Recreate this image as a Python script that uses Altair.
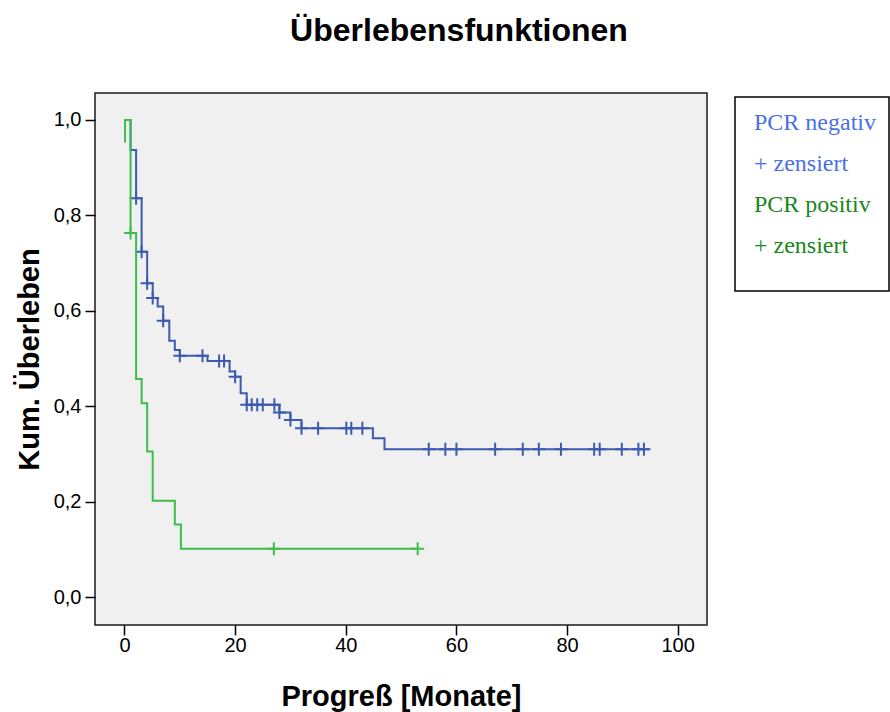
import altair as alt
import pandas as pd

# ---- data ----
# PCR negativ: step curve (event times and survival after each step)
neg_times = [0.0, 1.1, 2.1, 3.1, 4.1, 5.1, 6.0, 7.0, 8.1, 9.1, 10.0, 15.0, 19.0, 20.0,
             21.0, 22.1, 28.0, 30.0, 32.0, 44.9, 47.0, 94.9]
neg_surv = [1.0, 0.937, 0.836, 0.724, 0.658, 0.627, 0.609, 0.579, 0.537, 0.518, 0.506,
            0.495, 0.473, 0.462, 0.427, 0.403, 0.387, 0.371, 0.354, 0.333, 0.310, 0.310]
neg_censored = [2.1, 3.1, 4.1, 5.1, 7.0, 10.0, 14.1, 17.1, 18.0, 20.0, 22.1, 23.0, 24.0,
                25.0, 27.1, 28.0, 30.0, 32.0, 35.0, 40.1, 41.0, 43.0, 55.0, 58.0, 60.0,
                67.0, 72.0, 74.9, 78.9, 84.9, 85.9, 89.9, 92.9, 93.9]

# PCR positiv
pos_times = [0.1, 0.1, 1.1, 2.1, 3.1, 4.1, 5.1, 9.1, 10.2, 53.0]
pos_surv = [0.953, 1.0, 0.763, 0.457, 0.406, 0.305, 0.202, 0.152, 0.101, 0.101]
pos_censored = [1.1, 27.0, 53.0]

x_ticks = [0, 20, 40, 60, 80, 100]
y_ticks = [0.0, 0.2, 0.4, 0.6, 0.8, 1.0]

group_names = ["PCR negativ", "PCR positiv"]
line_colors = ["#3D5BAE", "#3DBE4C"]
legend_labels = ["PCR negativ", "+ zensiert", "PCR positiv", "+ zensiert"]
legend_colors = ["#4A6FEA", "#4A6FEA", "#1A871A", "#1A871A"]


def step_at(times, surv, t):
    s = surv[0]
    for ti, si in zip(times, surv):
        if ti <= t + 1e-9:
            s = si
    return s


def line_df(times, surv, name):
    return pd.DataFrame({"t": times, "s": surv, "idx": list(range(len(times))), "g": name})


def cens_df(cens, times, surv, name):
    return pd.DataFrame({"t": cens, "s": [step_at(times, surv, c) for c in cens], "g": name})


neg_line = line_df(neg_times, neg_surv, group_names[0])
pos_line = line_df(pos_times, pos_surv, group_names[1])
neg_cens = cens_df(neg_censored, neg_times, neg_surv, group_names[0])
pos_cens = cens_df(pos_censored, pos_times, pos_surv, group_names[1])

FONT = "Liberation Sans"

x_enc = alt.X(
    "t:Q",
    scale=alt.Scale(domain=[-5.33, 105.3], nice=False, zero=False),
    axis=alt.Axis(
        values=x_ticks, format="d", title="Progreß [Monate]", grid=False, domain=False,
        tickSize=10, tickWidth=1.5, tickColor="#000000", labelFontSize=20, labelFont=FONT,
        labelColor="#000000", labelPadding=0, titleFont=FONT, titleFontSize=29,
        titleFontWeight="bold", titleColor="#000000", titlePadding=27,
    ),
)
y_enc = alt.Y(
    "s:Q",
    scale=alt.Scale(domain=[-0.0587, 1.0566], nice=False, zero=False),
    axis=alt.Axis(
        values=y_ticks, labelExpr="replace(format(datum.value, '.1f'), '.', ',')",
        title="Kum. Überleben", grid=False, domain=False, tickSize=10, tickWidth=1.5,
        tickColor="#000000", labelFontSize=20, labelFont=FONT, labelColor="#000000",
        labelPadding=4, titleFont=FONT, titleFontSize=29, titleFontWeight="bold",
        titleColor="#000000", titlePadding=9,
    ),
)

CROSS = "M-1,0L1,0M0,-1L0,1"


def curve(df, color):
    return alt.Chart(df).mark_line(interpolate="step-after", color=color, strokeWidth=2).encode(
        x=x_enc, y=y_enc, order="idx:Q"
    )


def crosses(df, color):
    return alt.Chart(df).mark_point(
        shape=CROSS, size=169, filled=False, color=color, strokeWidth=2, opacity=1
    ).encode(x=x_enc, y=y_enc)


legend_box = alt.Chart(pd.DataFrame({"k": [0]})).mark_rect(
    fill="white", stroke="#000000", strokeWidth=1.5
).encode(x=alt.value(640), x2=alt.value(794), y=alt.value(4), y2=alt.value(198))

legend_texts = []
for i, (lab, col) in enumerate(zip(legend_labels, legend_colors)):
    legend_texts.append(
        alt.Chart(pd.DataFrame({"label": [lab]})).mark_text(
            align="left", baseline="middle", font="Liberation Serif", fontSize=24, color=col
        ).encode(text="label:N", x=alt.value(659), y=alt.value(30 + i * 41))
    )

chart = alt.layer(
    curve(neg_line, line_colors[0]),
    crosses(neg_cens, line_colors[0]),
    curve(pos_line, line_colors[1]),
    crosses(pos_cens, line_colors[1]),
    legend_box,
    *legend_texts,
).properties(
    width=612,
    height=532,
    autosize="none",
    background="white",
    padding={"left": 95, "top": 93, "right": 183, "bottom": 87},
    title=alt.TitleParams(
        "Überlebensfunktionen", font=FONT, fontSize=32, fontWeight="bold", color="#000000",
        anchor="middle", dx=58, offset=20, baseline="alphabetic",
    ),
).configure_view(
    fill="#F0F0F0", stroke="#1A1A1A", strokeWidth=1.5
)

chart.save("out.html", embed_options={"renderer": "svg", "actions": False})
